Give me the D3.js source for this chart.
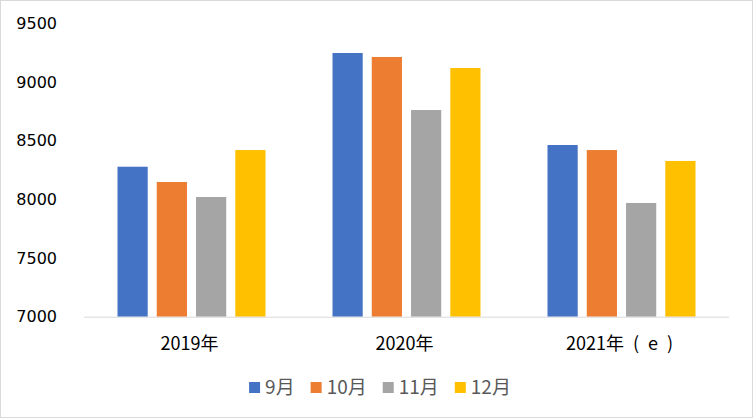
<!DOCTYPE html>
<html><head><meta charset="utf-8">
<script src="https://cdn.jsdelivr.net/npm/d3@7"></script>
<style>body{margin:0;background:#fff}svg{display:block}</style>
</head><body>
<svg id="c" width="753" height="418"></svg>
<script>
const categories = ["2019年", "2020年", "2021年\u2002(\u2002e\u2002)"];
const seriesNames = ["9月", "10月", "11月", "12月"];
const seriesColors = ["#4472C4", "#ED7D31", "#A5A5A5", "#FFC000"];
const values = [
  [8278, 9247, 8463],
  [8148, 9213, 8420],
  [8020, 8761, 7969],
  [8420, 9119, 8327]
];
const yTicks = [7000, 7500, 8000, 8500, 9000, 9500];

(function () {
const svg = d3.select("#c");
svg.append("rect").attr("x",0.5).attr("y",0.5).attr("width",752).attr("height",417)
  .attr("fill","#fff").attr("stroke","#d9d9d9");

const pLeft = 84, pRight = 729, pTop = 23.3, pBottom = 316.7;
const y = d3.scaleLinear().domain([7000, 9500]).range([pBottom, pTop]);
const x0 = d3.scaleBand().domain(categories).range([pLeft, pRight]);
const x1 = d3.scaleBand().domain(seriesNames).range([33.5, 181.5]).paddingInner(9/39);

// y tick labels
svg.append("g").selectAll("text").data(yTicks).join("text")
  .attr("x", 57).attr("y", d => y(d)).attr("dy", "0.36em")
  .attr("text-anchor", "end")
  .attr("font-family", "DejaVu Sans").attr("font-size", 16).attr("fill", "#000")
  .text(d => d);

// bars
seriesNames.forEach((s, si) => {
  svg.append("g").selectAll("rect").data(values[si]).join("rect")
    .attr("x", (d, i) => x0(categories[i]) + x1(s))
    .attr("width", x1.bandwidth())
    .attr("y", d => y(d))
    .attr("height", d => y(7000) - y(d))
    .attr("fill", seriesColors[si]);
});

// axis line
svg.append("line").attr("x1", pLeft).attr("x2", pRight)
  .attr("y1", pBottom + 0.5).attr("y2", pBottom + 0.5)
  .attr("stroke", "#d9d9d9").attr("stroke-width", 1);

// category labels
svg.append("g").selectAll("text").data(categories).join("text")
  .attr("x", d => x0(d) + x0.bandwidth() / 2 - 2)
  .attr("y", 350)
  .attr("text-anchor", "middle")
  .attr("font-family", "'Noto Sans CJK SC'").attr("font-size", 18).attr("fill", "#000")
  .text(d => d);

// legend
const lg = svg.append("g");
const items = seriesNames.map((s, i) => {
  const g = lg.append("g");
  g.append("rect").attr("width", 11).attr("height", 11).attr("y", 382).attr("fill", seriesColors[i]);
  const t = g.append("text").attr("x", 16).attr("y", 393.5)
    .attr("font-family", "'Noto Sans CJK SC'").attr("font-size", 19).attr("fill", "#595959").text(s);
  return {g, w: 16 + t.node().getComputedTextLength()};
});
const gap = 16;
const total = d3.sum(items, d => d.w) + gap * (items.length - 1);
let cx = 380 - total / 2;
items.forEach(it => { it.g.attr("transform", `translate(${cx},0)`); cx += it.w + gap; });
})();
</script>
</body></html>
